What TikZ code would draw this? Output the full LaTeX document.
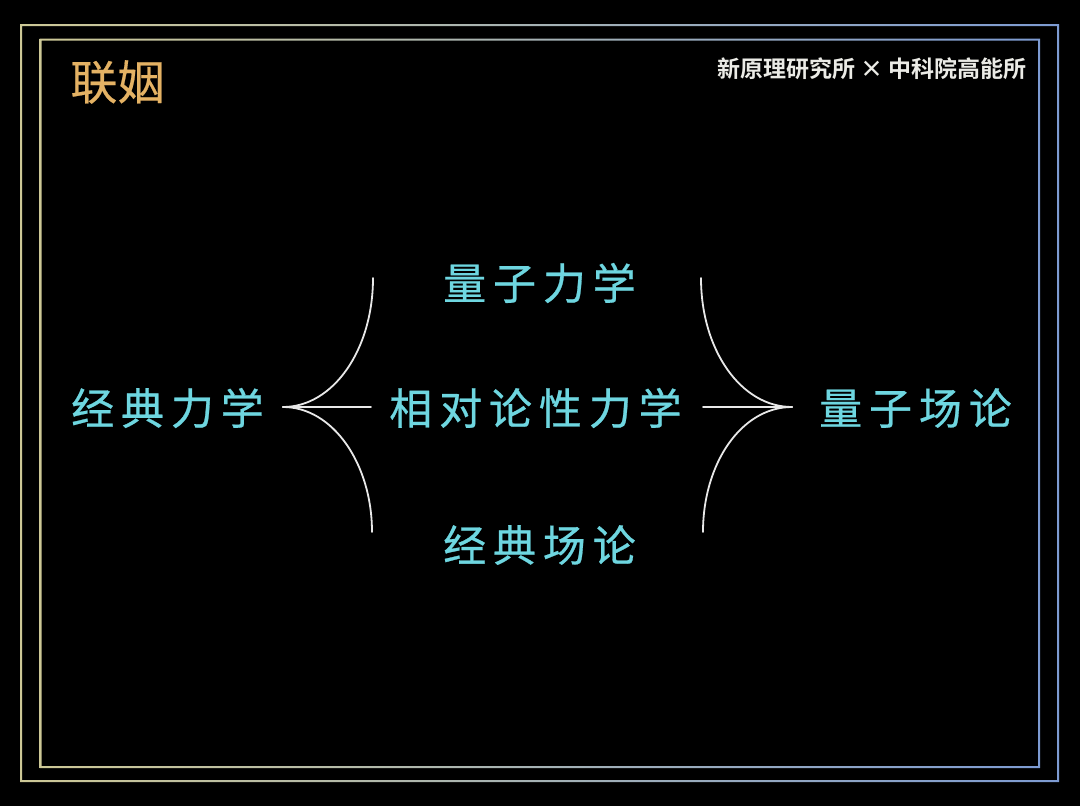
\documentclass[tikz,border=0pt]{standalone}
\usepackage{fontspec}
\newfontfamily\cjk[FakeBold=0.4]{Noto Sans CJK SC}
\newfontfamily\cjkbold{Noto Sans CJK SC Bold}
\newfontfamily\cjkspaced[LetterSpace=16,FakeBold=0.6]{Noto Sans CJK SC}
\definecolor{bgblack}{RGB}{0,0,0}
\definecolor{framekhaki}{RGB}{205,200,150}
\definecolor{frameblue}{RGB}{125,155,210}
\definecolor{titlegold}{RGB}{228,178,100}
\definecolor{logowhite}{RGB}{235,235,230}
\definecolor{termcyan}{RGB}{110,214,224}
\definecolor{bracewhite}{RGB}{232,232,232}
\tikzset{
  term/.style={inner sep=0pt, text=termcyan, font=\cjkspaced\fontsize{43}{43}\selectfont},
  bracestroke/.style={draw=bracewhite, line width=1.8pt, line cap=round},
}
\begin{document}
\begin{tikzpicture}[x=1pt,y=-1pt]
\useasboundingbox (0,0) rectangle (1080,806);
\fill[bgblack] (0,0) rectangle (1080,806);
% gradient double frame
\shade[left color=framekhaki, right color=frameblue, even odd rule]
  (20,24) rectangle (1059,782) (22,26) rectangle (1057,780);
\shade[left color=framekhaki, right color=frameblue, even odd rule]
  (39.5,38.5) rectangle (1040,768) (41.5,40.5) rectangle (1038,766);
% title and logo
\node[inner sep=0pt, text=titlegold, font=\cjk\fontsize{47}{47}\selectfont] (title) at (117.5,82) {联姻};
\node[inner sep=0pt, text=logowhite, font=\cjkbold\fontsize{23}{23}\selectfont] (logo) at (872,69) {新原理研究所 × 中科院高能所};
% terms
\node[term] (cm) at (167.5,408) {经典力学};
\node[term] (qm) at (539.5,283) {量子力学};
\node[term] (rm) at (535.5,408) {相对论性力学};
\node[term] (cf) at (539.5,545) {经典场论};
\node[term] (qf) at (915.5,408) {量子场论};
% left brace
\coordinate (ltip) at (283,407);
\coordinate (ltop) at (373,278);
\coordinate (lbot) at (372,532);
\coordinate (lmid) at (371,407);
\draw[bracestroke] (ltop) .. controls (373,350) and (333,407) .. (ltip);
\draw[bracestroke] (lbot) .. controls (372,464) and (333,407) .. (ltip);
\draw[bracestroke] (lmid) -- (ltip);
% right brace
\coordinate (rtip) at (792,407);
\coordinate (rtop) at (701,278);
\coordinate (rbot) at (703,532);
\coordinate (rmid) at (703,407);
\draw[bracestroke] (rtop) .. controls (701,350) and (741,407) .. (rtip);
\draw[bracestroke] (rbot) .. controls (703,464) and (741,407) .. (rtip);
\draw[bracestroke] (rmid) -- (rtip);
\end{tikzpicture}
\end{document}
